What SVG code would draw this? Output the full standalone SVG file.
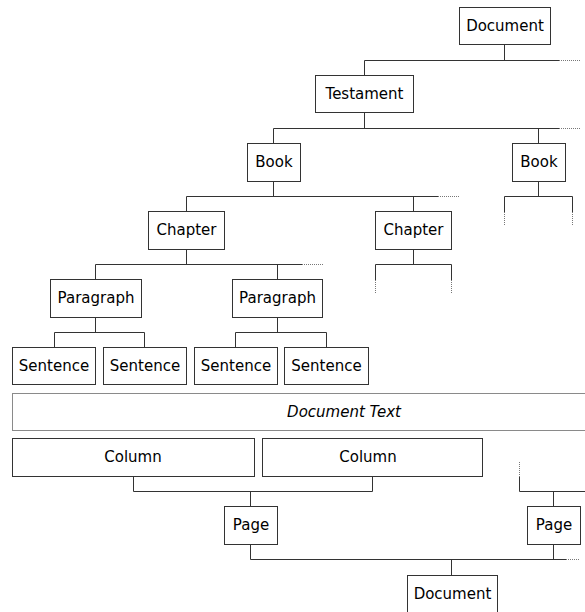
<svg xmlns="http://www.w3.org/2000/svg" width="585" height="612" viewBox="0 0 585 612">
<style>
rect{fill:#fff;stroke:#333;stroke-width:1}
rect.gray{stroke:#8a8a8a}
text{font-family:"DejaVu Sans",sans-serif;font-size:15px;fill:#000;text-anchor:middle}
text.it{font-style:italic}
#connectors path{fill:none;stroke:#333;stroke-width:1}
#connectors path.dot{stroke:#777;stroke-dasharray:1,1}
</style>
<rect x="0" y="0" width="585" height="612" style="fill:#fff;stroke:none"/>
<g id="connectors">
<path d="M504.5 45V60.5M364.5 60.5H559M364.5 60.5V75.5"/>
<path class="dot" d="M559 60.5H580"/>
<path d="M364.5 112.5V128.5M273.5 128.5H559M273.5 128.5V143.5M538.5 128.5V143.5"/>
<path class="dot" d="M559 128.5H580"/>
<path d="M273.5 181.5V196.5M186.5 196.5H438M186.5 196.5V211.5M413.5 196.5V211.5"/>
<path class="dot" d="M438 196.5H459"/>
<path d="M538.5 181.5V196.5M504.5 196.5H572.5M504.5 196.5V212M572.5 196.5V212"/>
<path class="dot" d="M504.5 212V225M572.5 212V225"/>
<path d="M186.5 249.5V264.5M95.5 264.5H302M95.5 264.5V279.5M277.5 264.5V279.5"/>
<path class="dot" d="M302 264.5H323"/>
<path d="M413.5 249.5V264.5M375.5 264.5H451.5M375.5 264.5V280M451.5 264.5V280"/>
<path class="dot" d="M375.5 280V293M451.5 280V293"/>
<path d="M95.5 317.5V332.5M54.5 332.5H144.5M54.5 332.5V347.5M144.5 332.5V347.5"/>
<path d="M277.5 317.5V332.5M235.5 332.5H326.5M235.5 332.5V347.5M326.5 332.5V347.5"/>
<path d="M133.5 476.5V491.5H372.5V476.5M250.5 491.5V506.5"/>
<path d="M519.5 477V491.5H585M553.5 491.5V506.5"/>
<path class="dot" d="M519.5 462V477"/>
<path d="M250.5 544.5V559.5H566M553.5 544.5V559.5M451.5 559.5V575.5"/>
<path class="dot" d="M566 559.5H580"/>
</g>
<g id="document_top"><rect x="459.5" y="7.5" width="91" height="37"/><text x="505" y="31">Document</text></g>
<g id="testament"><rect x="315.5" y="75.5" width="98" height="37"/><text x="364.5" y="99">Testament</text></g>
<g id="book1"><rect x="247.5" y="143.5" width="53" height="38"/><text x="274" y="167">Book</text></g>
<g id="book2"><rect x="512.5" y="143.5" width="53" height="38"/><text x="539" y="167">Book</text></g>
<g id="chapter1"><rect x="148.5" y="211.5" width="76" height="38"/><text x="186.5" y="235">Chapter</text></g>
<g id="chapter2"><rect x="375.5" y="211.5" width="76" height="38"/><text x="413.5" y="235">Chapter</text></g>
<g id="paragraph1"><rect x="50.5" y="279.5" width="91" height="38"/><text x="96" y="303">Paragraph</text></g>
<g id="paragraph2"><rect x="232.5" y="279.5" width="90" height="38"/><text x="277.5" y="303">Paragraph</text></g>
<g id="sentence1"><rect x="12.5" y="347.5" width="83" height="37"/><text x="54" y="371">Sentence</text></g>
<g id="sentence2"><rect x="103.5" y="347.5" width="83" height="37"/><text x="145" y="371">Sentence</text></g>
<g id="sentence3"><rect x="194.5" y="347.5" width="83" height="37"/><text x="236" y="371">Sentence</text></g>
<g id="sentence4"><rect x="284.5" y="347.5" width="84" height="37"/><text x="326.5" y="371">Sentence</text></g>
<g id="document_text"><rect class="gray" x="12.5" y="393.5" width="620" height="37"/><text class="it" x="344" y="417">Document Text</text></g>
<g id="column1"><rect x="12.5" y="438.5" width="242" height="38"/><text x="133" y="462">Column</text></g>
<g id="column2"><rect x="262.5" y="438.5" width="220" height="38"/><text x="368" y="462">Column</text></g>
<g id="page1"><rect x="224.5" y="506.5" width="53" height="38"/><text x="251" y="530">Page</text></g>
<g id="page2"><rect x="527.5" y="506.5" width="53" height="38"/><text x="554" y="530">Page</text></g>
<g id="document_bottom"><rect x="407.5" y="575.5" width="90" height="40"/><text x="452.5" y="599">Document</text></g>
</svg>
